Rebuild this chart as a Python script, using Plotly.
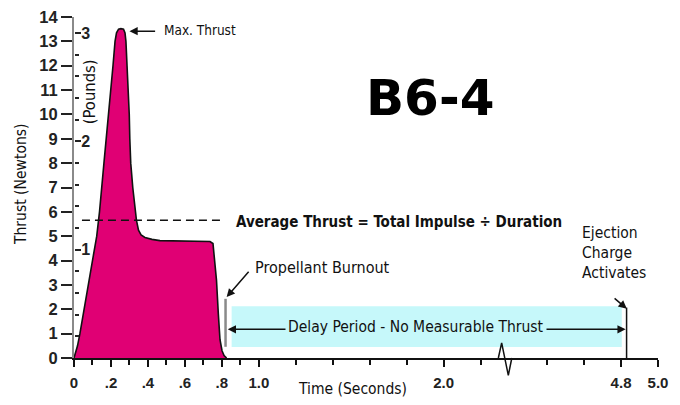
import plotly.graph_objects as go

# ---------------- data ----------------
# B6-4 thrust curve: time (s) and thrust (N)
time_s = [0.0, 0.019, 0.032, 0.056, 0.077, 0.100, 0.123, 0.138, 0.162, 0.188, 0.211, 0.222,
          0.230, 0.241, 0.254, 0.268, 0.276, 0.281, 0.288, 0.294, 0.299, 0.302, 0.307, 0.318,
          0.330, 0.338, 0.349, 0.363, 0.384, 0.422, 0.465, 0.709, 0.736, 0.752, 0.771, 0.781,
          0.790, 0.801, 0.812, 0.826]
thrust_n = [0.0, 0.5, 1.0, 2.0, 3.0, 4.0, 5.0, 6.0, 8.0, 10.0, 12.0, 13.0,
            13.35, 13.5, 13.52, 13.5, 13.35, 13.0, 12.0, 11.0, 10.0, 9.0, 8.0, 7.0,
            6.0, 5.65, 5.25, 5.05, 4.95, 4.87, 4.82, 4.8, 4.78, 4.7, 3.2, 1.8,
            0.75, 0.3, 0.1, 0.0]

average_thrust_n = 5.66
burnout_s = 0.82
ejection_s = 4.83

x_tick_times = [0, 0.2, 0.4, 0.6, 0.8, 1.0, 2.0, 4.8, 5.0]
x_tick_labels = ["0", ".2", ".4", ".6", ".8", "1.0", "2.0", "4.8", "5.0"]
x_minor_times = [0.1, 0.3, 0.5, 0.7, 0.9, 1.2, 1.4, 1.6, 1.8, 2.2, 4.4, 4.6]

newton_ticks = list(range(0, 15))
pound_ticks = [1, 2, 3]
pound_minor = [round(0.2 * i, 1) for i in range(1, 16) if i % 5 != 0]
N_PER_LB = 4.44822

# ---------------- broken time axis ----------------
SHIFT = 1.84      # seconds removed by the axis break
BREAK_T = 2.35


def disp(t):
    return t if t <= BREAK_T + 0.5 else t - SHIFT


XMAX = disp(5.0)
YMAX = 14.0

COND = "DejaVu Sans Condensed, DejaVu Sans, sans-serif"
TICKF = "Liberation Sans, Arial, sans-serif"
MAGENTA = "#E00074"
CYAN = "#C6F8FA"
INK = "#111111"

# the page body has an 8px margin, so the figure is drawn 8px in from the corner
PAGE_OFF = 8
PLOT_L, PLOT_T, PLOT_R, PLOT_B = 74, 17, 658, 358   # target plot area in window pixels
FIG_W, FIG_H = 680 - PAGE_OFF, 405 - PAGE_OFF
PW, PH = PLOT_R - PLOT_L, PLOT_B - PLOT_T

fig = go.Figure()

fig.add_trace(go.Scatter(
    x=[disp(t) for t in time_s], y=thrust_n, mode="lines",
    fill="tozeroy", fillcolor=MAGENTA,
    line=dict(color=INK, width=1.6), hoverinfo="skip", showlegend=False))

# invisible trace to activate the pound axis
fig.add_trace(go.Scatter(x=[0], y=[0], yaxis="y2", mode="markers",
                         marker=dict(opacity=0), showlegend=False, hoverinfo="skip"))

shapes = []
shapes.append(dict(type="rect", xref="x", yref="y", x0=disp(0.853), x1=disp(4.804),
                   y0=0.45, y1=2.12, fillcolor=CYAN, line=dict(width=0), layer="below"))
shapes.append(dict(type="line", xref="x", yref="y", x0=disp(0.043), x1=disp(0.806),
                   y0=average_thrust_n, y1=average_thrust_n,
                   line=dict(color=INK, width=1.5, dash="8px,5px")))
shapes.append(dict(type="line", xref="x", yref="y", x0=disp(burnout_s), x1=disp(burnout_s),
                   y0=0.46, y1=2.43, line=dict(color="#8a8a8a", width=2.5)))
shapes.append(dict(type="line", xref="x", yref="y", x0=disp(ejection_s), x1=disp(ejection_s),
                   y0=0, y1=2.07, line=dict(color=INK, width=1.5)))
# axis-break zigzag
zx = [disp(2.296), disp(2.314), disp(2.350), disp(2.369)]
zy = [0.0, 0.62, -0.71, 0.0]
path = "M {:.4f},{:.4f} L {:.4f},{:.4f} L {:.4f},{:.4f} L {:.4f},{:.4f}".format(
    zx[0] / XMAX, zy[0] / YMAX, zx[1] / XMAX, zy[1] / YMAX,
    zx[2] / XMAX, zy[2] / YMAX, zx[3] / XMAX, zy[3] / YMAX)
shapes.append(dict(type="path", xref="paper", yref="paper", path=path,
                   line=dict(color=INK, width=1.5)))


def arrow(x, y, ax, ay):
    return dict(x=x, y=y, ax=ax, ay=ay, xref="x", yref="y", axref="x", ayref="y",
                text="", showarrow=True, arrowhead=2, arrowsize=1.1,
                arrowwidth=1.5, arrowcolor=INK)


def label(x, y, text, size, bold=False, anchor="left", **kw):
    f = dict(family=COND, size=size, color=INK)
    if bold:
        f["weight"] = "bold"
    d = dict(x=x, y=y, xref="x", yref="y", text=text, showarrow=False,
             xanchor=anchor, yanchor="middle", font=f)
    d.update(kw)
    return d


ann = []
ann.append(arrow(disp(0.300), 13.42, disp(0.447), 13.42))
ann.append(label(disp(0.478), 13.45, "Max. Thrust", 13.5))
ann.append(label(disp(0.868), 5.60, "Average Thrust = Total Impulse \u00f7 Duration", 15, bold=True))
ann.append(arrow(disp(0.826), 2.50, disp(0.952), 3.60))
ann.append(label(disp(0.966), 3.70, "Propellant Burnout", 16))
ann.append(arrow(disp(0.832), 1.18, disp(1.3), 1.18))
ann.append(arrow(disp(4.825), 1.18, disp(4.3), 1.18))
ann.append(label(1.853, 1.28, "Delay Period - No Measurable Thrust", 15.5, anchor="center",
                 bgcolor=CYAN, borderpad=2))
for txt, yy in [("Ejection", 5.14), ("Charge", 4.32), ("Activates", 3.50)]:
    ann.append(label(disp(4.58), yy, txt, 15.5))
ann.append(arrow(disp(4.831), 2.02, disp(4.757), 2.50))
ann.append(dict(x=1.926, y=10.68, xref="x", yref="y", text="B6-4", showarrow=False,
                xanchor="center", yanchor="middle",
                font=dict(family="DejaVu Sans", size=50, color="#000000", weight="bold")))
ann.append(label(0.083, 10.92, "(Pounds)", 16.5, anchor="center", textangle=-90))
# axis titles outside the plot area
ann.append(dict(x=(21 - PLOT_L) / PW, y=(PLOT_B - 185) / PH, xref="paper", yref="paper",
                text="Thrust (Newtons)", textangle=-90, showarrow=False,
                xanchor="center", yanchor="middle",
                font=dict(family=COND, size=15.5, color=INK)))
ann.append(dict(x=disp(1.505) / XMAX, y=(PLOT_B - 389) / PH, xref="paper", yref="paper",
                text="Time (Seconds)", showarrow=False, xanchor="center", yanchor="middle",
                font=dict(family=COND, size=15.5, color=INK)))

fig.update_layout(
    template="none",
    width=FIG_W, height=FIG_H,
    margin=dict(l=PLOT_L - PAGE_OFF, r=680 - PLOT_R, t=PLOT_T - PAGE_OFF,
                b=405 - PLOT_B, pad=0),
    paper_bgcolor="white", plot_bgcolor="white",
    showlegend=False,
    shapes=shapes, annotations=ann,
    xaxis=dict(range=[0, XMAX], showgrid=False, zeroline=False, automargin=False,
               showline=True, linecolor=INK, linewidth=2,
               tickmode="array", tickvals=[disp(t) for t in x_tick_times],
               ticktext=x_tick_labels, ticks="outside", ticklen=7, tickwidth=1.5,
               tickcolor=INK, ticklabelstandoff=3, ticklabeloverflow="allow",
               tickfont=dict(family=TICKF, size=15, color="#222222", weight="bold"),
               minor=dict(tickmode="array", tickvals=[disp(t) for t in x_minor_times],
                          ticks="outside", ticklen=5, tickwidth=1.5, tickcolor=INK)),
    yaxis=dict(range=[0, YMAX], showgrid=False, zeroline=False, automargin=False,
               showline=True, linecolor="#8a8a8a", linewidth=2,
               tickmode="array", tickvals=newton_ticks, ticks="outside",
               ticklen=11, tickwidth=1.5, tickcolor="#222222", ticklabeloverflow="allow",
               tickfont=dict(family=TICKF, size=16.5, color="#222222", weight="bold")),
    yaxis2=dict(range=[0, YMAX / N_PER_LB], overlaying="y", side="right", anchor="free",
                position=0, automargin=False,
                showgrid=False, zeroline=False, showline=False,
                tickmode="array", tickvals=pound_ticks, ticktext=[str(p) for p in pound_ticks],
                ticks="outside", ticklen=6, tickwidth=1.5, tickcolor="#222222",
                ticklabelstandoff=-3,
                tickfont=dict(family=TICKF, size=16, color="#222222", weight="bold"),
                minor=dict(tickmode="array", tickvals=pound_minor, ticks="outside",
                           ticklen=4, tickwidth=1.5, tickcolor="#222222")),
)

fig.write_html("out.html")
